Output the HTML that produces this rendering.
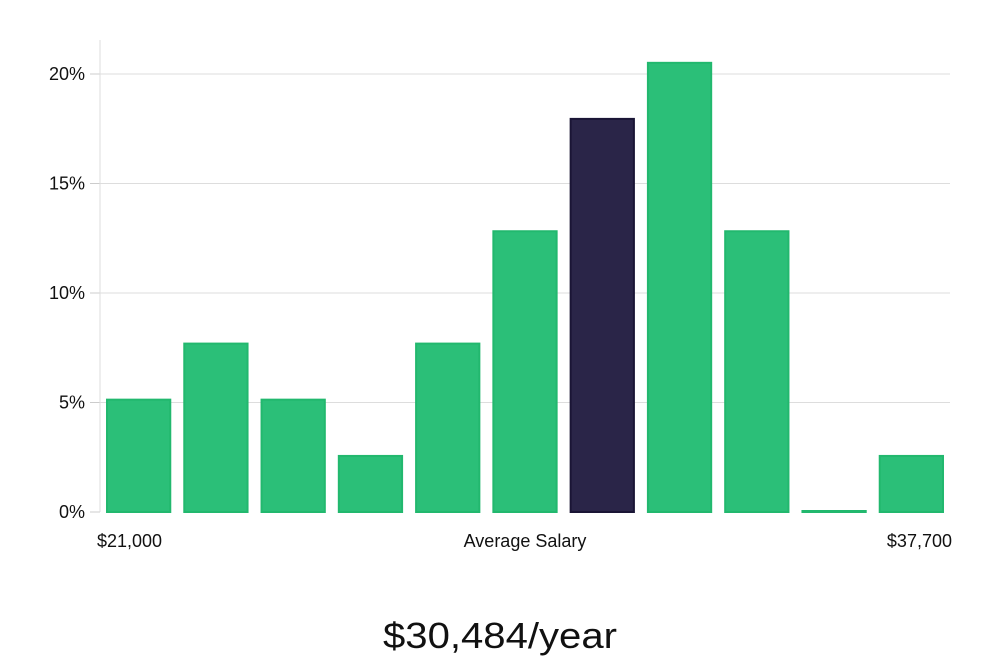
<!DOCTYPE html>
<html><head><meta charset="utf-8"><style>
html,body{margin:0;padding:0;background:#fff;width:1000px;height:660px;overflow:hidden;font-family:"Liberation Sans","DejaVu Sans",sans-serif;}
svg{display:block}
</style></head><body>
<svg id="chart" width="1000" height="660" xmlns="http://www.w3.org/2000/svg"></svg>
<script>
const categories = ["b1","b2","b3","b4","b5","b6","b7","b8","b9","b10","b11"];
const values = [5.13, 7.69, 5.13, 2.56, 7.69, 12.82, 17.95, 20.51, 12.82, 0, 2.56];
const highlightIndex = 6;
const yTicks = [0, 5, 10, 15, 20];
const yTickLabels = ["0%", "5%", "10%", "15%", "20%"];
const xLabels = ["$21,000", "Average Salary", "$37,700"];
const titleText = "$30,484/year";

const NS = "http://www.w3.org/2000/svg";
const svg = document.getElementById("chart");
const left = 100, right = 950, y0 = 512, y20 = 74;
const yScale = v => y0 - (v / 20) * (y0 - y20);
const band = (right - left) / categories.length;
const xScale = i => left + i * band;
function mk(tag, attrs) { const e = document.createElementNS(NS, tag); for (const k in attrs) e.setAttribute(k, attrs[k]); svg.appendChild(e); return e; }

yTicks.forEach((t, i) => {
  const y = yScale(t);
  if (t > 0) {
    const g = mk("line", {x1: left, x2: right, y1: y, y2: y, stroke: "#dddddd", "stroke-width": 1});
    
    
  }
  const tk = mk("line", {x1: left - 10, x2: left, y1: y, y2: y, stroke: "#cccccc", "stroke-width": 1});
  
  
  const tx = mk("text", {x: 85, y: y + 6, "text-anchor": "end", "font-size": 18, fill: "#111"});
  tx.textContent = yTickLabels[i];
  
  
});
const ax = mk("line", {x1: left, x2: left, y1: 40, y2: y0, stroke: "#dddddd", "stroke-width": 1});



values.forEach((v, i) => {
  const x = xScale(i) + 7, w = band - 14;
  const y = yScale(v);
  const h = Math.max(y0 - y, 1);
  const hi = i === highlightIndex;
  const r = mk("rect", {x: x, y: y0 - h, width: w, height: h,
    fill: hi ? "#2a2548" : "#2bbf78", stroke: hi ? "#1a1535" : "#22b86e", "stroke-width": 2});
  
  
});

const xl = [[97, "start"], [525, "middle"], [952, "end"]];
xLabels.forEach((s, i) => {
  const t = mk("text", {x: xl[i][0], y: 547, "text-anchor": xl[i][1], "font-size": 18, fill: "#111"});
  t.textContent = s;
  
  
});
const ti = mk("text", {x: 500, y: 648, "text-anchor": "middle", "font-size": 36, fill: "#111", "textLength": 234, "lengthAdjust": "spacingAndGlyphs"});
ti.textContent = titleText;


</script>
</body></html>
